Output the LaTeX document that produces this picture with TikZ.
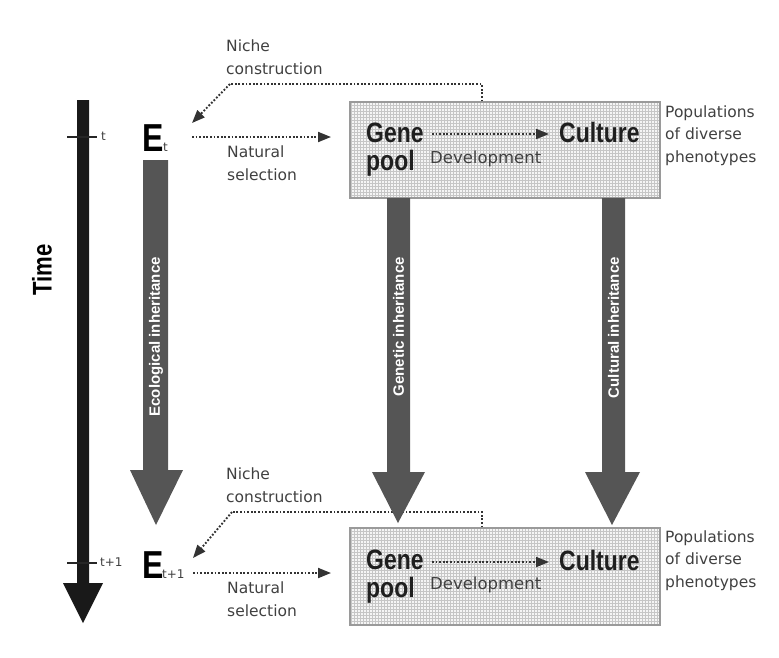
\documentclass[tikz,border=0pt]{standalone}
\usepackage{fontspec}
\setmainfont{DejaVu Sans}
\newfontfamily\bcond[FakeStretch=0.82]{Liberation Sans Bold}
\newfontfamily\bnorm{Liberation Sans Bold}
\usetikzlibrary{arrows.meta,patterns}
\definecolor{lblgray}{HTML}{404040}
\definecolor{arrgray}{HTML}{555555}
\definecolor{boxline}{HTML}{9A9A9A}
\tikzset{
  lbl/.style={font=\fontsize{15.5}{22.5}\selectfont, text=lblgray, inner sep=0pt, align=left},
  devlbl/.style={font=\fontsize{16.5}{20}\selectfont, text=lblgray, inner sep=0pt},
  bigbold/.style={font=\bcond\fontsize{28}{28}\selectfont, text=black!88, inner sep=0pt, align=left},
  inh/.style={font=\bnorm\fontsize{15}{17}\selectfont, text=white, inner sep=0pt, rotate=90, anchor=east},
  popbox/.style={draw=boxline, line width=1.4pt, preaction={fill=gray!8}, pattern=grid, pattern color=gray!45, minimum width=310pt, inner sep=0pt},
  dotarrow/.style={draw=black!80, line width=1.9pt, dash pattern=on 1.8pt off 1.8pt, -{Triangle[length=13pt,width=10pt]}},
  dotline/.style={draw=black!80, line width=1.9pt, dash pattern=on 1.8pt off 1.8pt},
  bigarrow/.style={fill=arrgray, draw=none},
}
\begin{document}
\begin{tikzpicture}[x=1pt,y=-1pt]
\useasboundingbox (0,0) rectangle (779,657);

% ---- Time axis
\fill[black!90] (77,100) -- (89,100) -- (89,583) -- (103,583) -- (83,623) -- (63,583) -- (77,583) -- cycle;
\draw[black!85, line width=1.2pt] (67,137) -- (97,137);
\draw[black!85, line width=1.2pt] (67,563) -- (97,563);
\node[font=\fontsize{12}{14}\selectfont, text=lblgray, anchor=west, inner sep=0pt] (tt) at (101,136) {t};
\node[font=\fontsize{12}{14}\selectfont, text=lblgray, anchor=west, inner sep=0pt] (tt1) at (100,562) {t+1};
\node[font=\bcond\fontsize{27}{30}\selectfont, rotate=90, inner sep=0pt] (time) at (42,270) {Time};

% ---- boxes
\node[popbox, minimum height=96pt] (box1) at (505,150) {};
\node[popbox, minimum height=97pt] (box2) at (505,576.5) {};

% ---- E nodes
\node[font=\bcond\fontsize{39}{40}\selectfont, anchor=base west, inner sep=0pt] (E1) at (142,151) {E};
\node[font=\fontsize{12}{14}\selectfont, anchor=base west, inner sep=0pt, text=lblgray] (E1s) at (163,151) {t};
\node[font=\bcond\fontsize{39}{40}\selectfont, anchor=base west, inner sep=0pt] (E2) at (142,578) {E};
\node[font=\fontsize{12}{14}\selectfont, anchor=base west, inner sep=0pt, text=lblgray] (E2s) at (162,578) {t+1};

% ---- box contents, top (base = baseline of last line)
\node[bigbold, anchor=base west] (gene1) at (366,170) {Gene\\pool};
\node[bigbold, anchor=base west] (cult1) at (559,142) {Culture};
\node[devlbl, anchor=base west] (dev1) at (430,163) {Development};
\node[lbl, anchor=base west] (pop1) at (665,162) {Populations\\of diverse\\phenotypes};

% ---- box contents, bottom
\node[bigbold, anchor=base west] (gene2) at (366,597) {Gene\\pool};
\node[bigbold, anchor=base west] (cult2) at (559,570) {Culture};
\node[devlbl, anchor=base west] (dev2) at (430,589) {Development};
\node[lbl, anchor=base west] (pop2) at (665,587) {Populations\\of diverse\\phenotypes};

% ---- side labels
\node[lbl, anchor=base west] (nc1) at (226,74) {Niche\\construction};
\node[lbl, anchor=base west] (ns1) at (227,180) {Natural\\selection};
\node[lbl, anchor=base west] (nc2) at (226,502) {Niche\\construction};
\node[lbl, anchor=base west] (ns2) at (227,616) {Natural\\selection};

% ---- coordinates for connector ends
\coordinate (ncA1) at (482,84);
\coordinate (ncB1) at (230,84);
\coordinate (ncT1) at (192,123);
\coordinate (nsS1) at (192,137);
\coordinate (nsT1) at (331,137);
\coordinate (ncA2) at (482,512);
\coordinate (ncB2) at (232,512);
\coordinate (ncT2) at (193,558);
\coordinate (nsS2) at (193,573);
\coordinate (nsT2) at (331,573);
\coordinate (devS1) at (432,134);
\coordinate (devT1) at (549,134);
\coordinate (devS2) at (432,562);
\coordinate (devT2) at (549,562);

% ---- dotted connectors
\draw[dotline] (box1.north -| ncA1) -- (ncA1) -- (ncB1);
\draw[dotarrow] (ncB1) -- (ncT1);
\draw[dotarrow] (nsS1) -- (nsT1);
\draw[dotline] (box2.north -| ncA2) -- (ncA2) -- (ncB2);
\draw[dotarrow] (ncB2) -- (ncT2);
\draw[dotarrow] (nsS2) -- (nsT2);
\draw[dotarrow] (devS1) -- (devT1);
\draw[dotarrow] (devS2) -- (devT2);

% ---- inheritance arrows
\fill[bigarrow] (143,160) -- (168,160) -- (168,470) -- (183,470) -- (156,525) -- (130,470) -- (143,470) -- cycle;
\fill[bigarrow] (387,198) -- (410,198) -- (410,472) -- (425,472) -- (398,523) -- (372,472) -- (387,472) -- cycle;
\fill[bigarrow] (602,198) -- (625,198) -- (625,472) -- (640,472) -- (612,525) -- (585,472) -- (602,472) -- cycle;
\node[inh] (ecoL) at (156,257) {Ecological inheritance};
\node[inh] (genL) at (398.5,257) {Genetic inheritance};
\node[inh] (culL) at (613.5,257) {Cultural inheritance};
\end{tikzpicture}
\end{document}
